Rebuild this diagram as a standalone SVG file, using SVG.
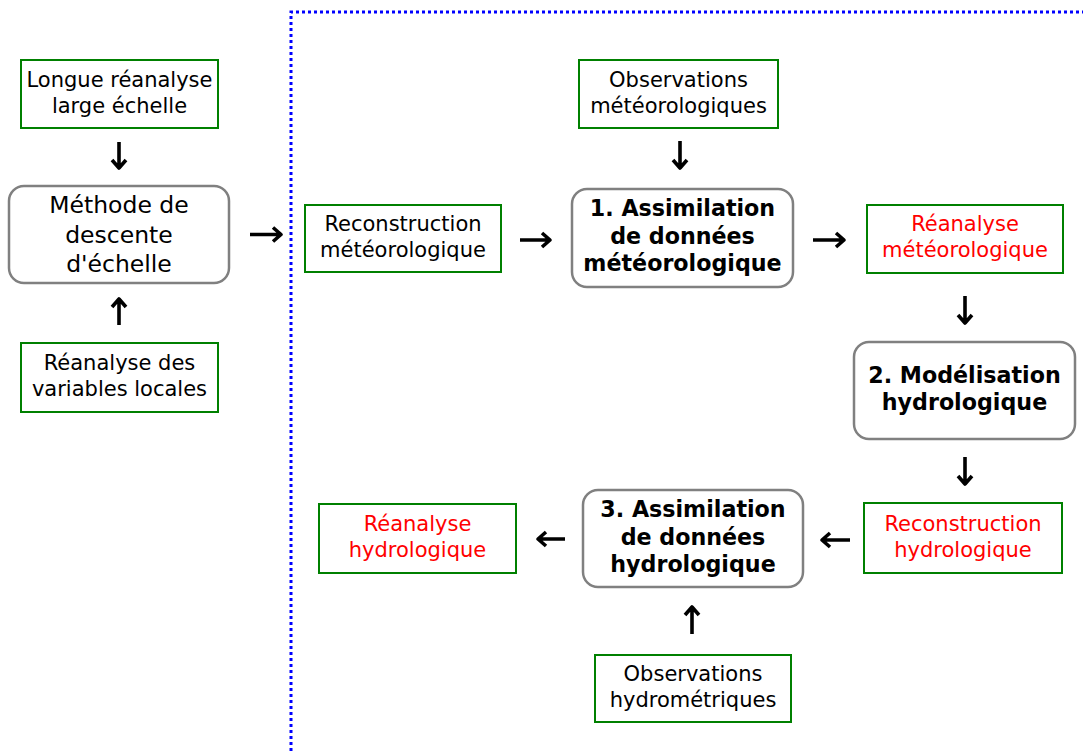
<svg xmlns="http://www.w3.org/2000/svg" width="1083" height="751" viewBox="0 0 1083 751">
<style>
text{font-family:"DejaVu Sans","Liberation Sans",sans-serif;text-anchor:middle;}
.g{fill:#fff;stroke:#008000;stroke-width:2;}
.r{fill:#fff;stroke:#808080;stroke-width:2.5;}
.t{font-size:21px;fill:#000;}
.red{font-size:21px;fill:#ff0000;}
.m{font-size:23.5px;fill:#000;}
.b{font-size:22.2px;font-weight:bold;fill:#000;}
.a{fill:none;stroke:#000;stroke-width:3.6;stroke-linejoin:round;}
</style>
<rect width="1083" height="751" fill="#fff"/>
<path d="M291 751 V12 H1083" fill="none" stroke="#0000ff" stroke-width="3" stroke-dasharray="3,3"/>
<g id="n1"><rect class="g" x="21" y="60" width="197" height="68"/><text class="t" x="119.5" y="87">Longue réanalyse</text><text class="t" x="119.5" y="113">large échelle</text></g>
<g id="n2"><rect class="g" x="21" y="343" width="197" height="69"/><text class="t" x="119.5" y="370">Réanalyse des</text><text class="t" x="119.5" y="396">variables locales</text></g>
<g id="n3"><rect class="r" x="9" y="186" width="220" height="97" rx="15"/><text class="m" x="119" y="213">Méthode de</text><text class="m" x="119" y="243">descente</text><text class="m" x="119" y="272">d'échelle</text></g>
<g id="n4"><rect class="g" x="305" y="205" width="196" height="67"/><text class="t" x="403" y="231">Reconstruction</text><text class="t" x="403" y="257">météorologique</text></g>
<g id="n5"><rect class="g" x="579" y="60" width="199" height="68"/><text class="t" x="678.5" y="87">Observations</text><text class="t" x="678.5" y="113">météorologiques</text></g>
<g id="n6"><rect class="r" x="572" y="189" width="221" height="98" rx="15"/><text class="b" x="682.5" y="216">1. Assimilation</text><text class="b" x="682.5" y="244">de données</text><text class="b" x="682.5" y="271">météorologique</text></g>
<g id="n7"><rect class="g" x="867" y="205" width="196" height="68"/><text class="red" x="965" y="231">Réanalyse</text><text class="red" x="965" y="257">météorologique</text></g>
<g id="n8"><rect class="r" x="854" y="342" width="221" height="97" rx="15"/><text class="b" x="964.5" y="383">2. Modélisation</text><text class="b" x="964.5" y="410">hydrologique</text></g>
<g id="n9"><rect class="g" x="864" y="503" width="198" height="70"/><text class="red" x="963" y="531">Reconstruction</text><text class="red" x="963" y="557">hydrologique</text></g>
<g id="n10"><rect class="r" x="583" y="490" width="220" height="97" rx="15"/><text class="b" x="693" y="517">3. Assimilation</text><text class="b" x="693" y="545">de données</text><text class="b" x="693" y="572">hydrologique</text></g>
<g id="n11"><rect class="g" x="319" y="504" width="197" height="69"/><text class="red" x="417.5" y="531">Réanalyse</text><text class="red" x="417.5" y="557">hydrologique</text></g>
<g id="n12"><rect class="g" x="595" y="655" width="196" height="67"/><text class="t" x="693" y="681">Observations</text><text class="t" x="693" y="707">hydrométriques</text></g>
<g id="connectors">
<path class="a" d="M119 142 V168 M112 160 L119 168 L126 160"/>
<path class="a" d="M119 325 V299 M112 307 L119 299 L126 307"/>
<path class="a" d="M250 234.5 H281 M273 227.5 L281 234.5 L273 241.5"/>
<path class="a" d="M520 240 H550 M542 233 L550 240 L542 247"/>
<path class="a" d="M813 240 H844 M836 233 L844 240 L836 247"/>
<path class="a" d="M680 141 V168 M673 160 L680 168 L687 160"/>
<path class="a" d="M965 296 V323 M958 315 L965 323 L972 315"/>
<path class="a" d="M965 457 V484 M958 476 L965 484 L972 476"/>
<path class="a" d="M850 540 H822 M830 533 L822 540 L830 547"/>
<path class="a" d="M565 539 H538 M546 532 L538 539 L546 546"/>
<path class="a" d="M692 634 V607 M685 615 L692 607 L699 615"/>
</g>
</svg>
